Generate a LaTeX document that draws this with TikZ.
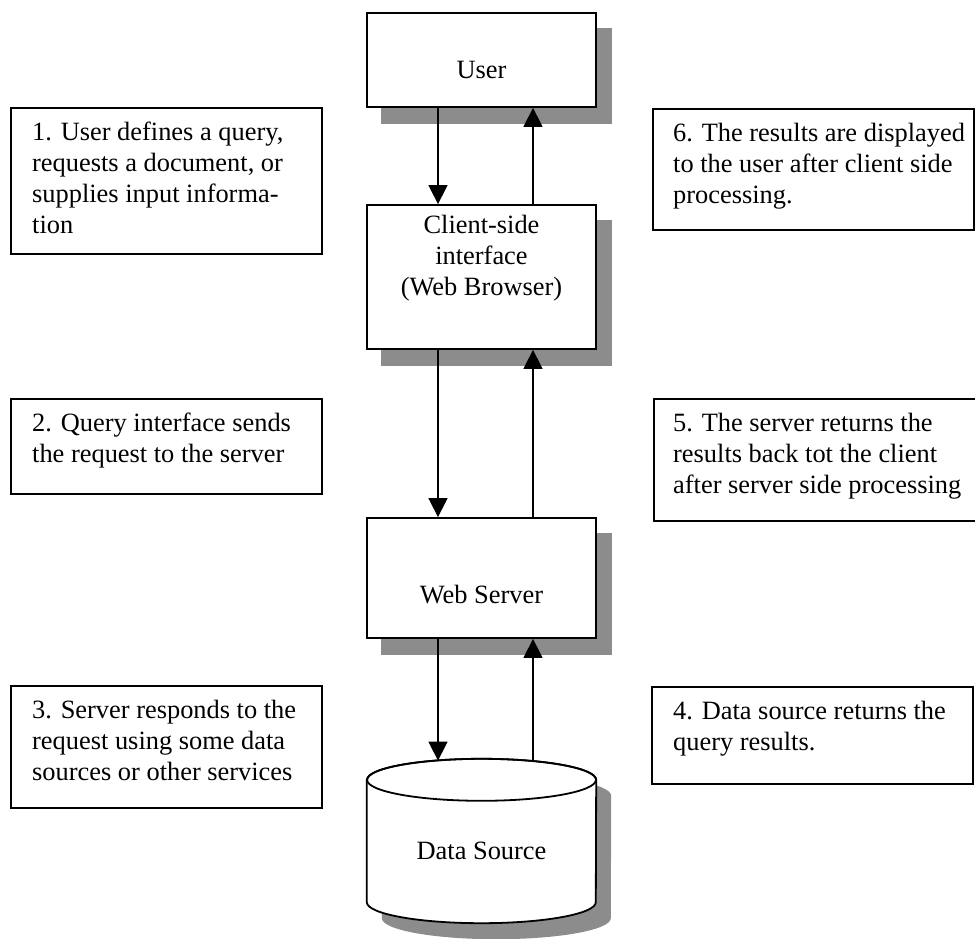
\documentclass[tikz,border=0pt]{standalone}
\usepackage{fontspec}
\setmainfont{Liberation Serif}
\usetikzlibrary{arrows.meta}
\pgfdeclarelayer{bg}
\pgfsetlayers{bg,main}

\begin{document}
\begin{tikzpicture}[x=1pt,y=-1pt,
  every node/.style={font=\fontsize{26.4}{31}\selectfont},
  stage/.style={draw, fill=white, line width=1.8pt, inner sep=0pt, minimum width=229pt},
  note/.style={draw, line width=1.8pt, inner sep=0pt, anchor=north west},
  notetext/.style={anchor=north west, inner sep=0pt, align=left},
  flow/.style={line width=1.5pt, -{Triangle[width=19pt,length=19pt]}},
  shade/.style={fill=black!45},
]
\useasboundingbox (0,0) rectangle (975,939);
\clip (0,0) rectangle (975,939);

% vertical lanes for the down (request) and up (response) arrows
\coordinate (down) at (438,0);
\coordinate (up) at (533,0);

% central components
\node[stage, minimum height=94pt]  (user)   at (481.5,60)  {};
\node[stage, minimum height=144pt] (client) at (481.5,277) {};
\node[stage, minimum height=120pt] (ws)     at (481.5,578) {};
\node[inner sep=0pt, minimum width=229pt, minimum height=122pt] (ds) at (481.5,841) {};

\node[anchor=base] (usertext) at (481.5,79) {User};
\node[anchor=north, inner sep=0pt, align=center] (clienttext) at (481.5,212)
  {\strut Client-side\\interface\\(Web Browser)\strut};
\node[anchor=base] (wstext) at (481.5,603) {Web Server};

% drop shadows
\begin{pgfonlayer}{bg}
  \foreach \b in {user,client,ws}
    \fill[shade] ([shift={(15,16)}]\b.north west) rectangle ([shift={(15,16)}]\b.south east);
  \fill[shade] ([shift={(15,16)}]ds.north west) -- ([shift={(15,16)}]ds.south west)
    arc[start angle=180, end angle=0, x radius=114.5, y radius=21]
    -- ([shift={(15,16)}]ds.north east)
    arc[start angle=0, end angle=-180, x radius=114.5, y radius=21] -- cycle;
\end{pgfonlayer}

% data source cylinder
\filldraw[fill=white, line width=1.8pt] (ds.north west) -- (ds.south west)
  arc[start angle=180, end angle=0, x radius=114.5, y radius=21]
  -- (ds.north east)
  arc[start angle=0, end angle=-180, x radius=114.5, y radius=21] -- cycle;
\draw[line width=1.8pt] (ds.north) ellipse[x radius=114.5, y radius=21];
\node[anchor=base] (dstext) at (481.5,859) {Data Source};
\coordinate (dsin) at (438,760.6);
\coordinate (dsout) at (533,761.2);

% request / response arrows
\draw[flow] (user.south -| down) -- (client.north -| down);
\draw[flow] (client.north -| up) -- (user.south -| up);
\draw[flow] (client.south -| down) -- (ws.north -| down);
\draw[flow] (ws.north -| up) -- (client.south -| up);
\draw[flow] (ws.south -| down) -- (dsin);
\draw[flow] (dsout) -- (ws.south -| up);

% step descriptions
\node[note, minimum width=311pt, minimum height=146pt] (n1) at (10,107) {};
\node[notetext] (n1text) at ([shift={(22,11.3)}]n1.north west)
  {\strut 1. User defines a query,\\requests a document, or\\supplies input informa-\\tion\strut};

\node[note, minimum width=311pt, minimum height=95pt] (n2) at (10,398) {};
\node[notetext] (n2text) at ([shift={(22,11.3)}]n2.north west)
  {\strut 2. Query interface sends\\the request to the server\strut};

\node[note, minimum width=311pt, minimum height=122pt] (n3) at (10,685) {};
\node[notetext] (n3text) at ([shift={(22,11.3)}]n3.north west)
  {\strut 3. Server responds to the\\request using some data\\sources or other services\strut};

\node[note, minimum width=321pt, minimum height=97pt] (n4) at (651,686) {};
\node[notetext] (n4text) at ([shift={(22,11.3)}]n4.north west)
  {\strut 4. Data source returns the\\query results.\strut};

\node[note, minimum width=335pt, minimum height=122pt] (n5) at (653,398) {};
\node[notetext] (n5text) at ([shift={(20,11.3)}]n5.north west)
  {\strut 5. The server returns the\\results back tot the client\\after server side processing\strut};

\node[note, minimum width=321pt, minimum height=121pt] (n6) at (652,108) {};
\node[notetext] (n6text) at ([shift={(21,11.3)}]n6.north west)
  {\strut 6. The results are displayed\\to the user after client side\\processing.\strut};
\end{tikzpicture}
\end{document}
